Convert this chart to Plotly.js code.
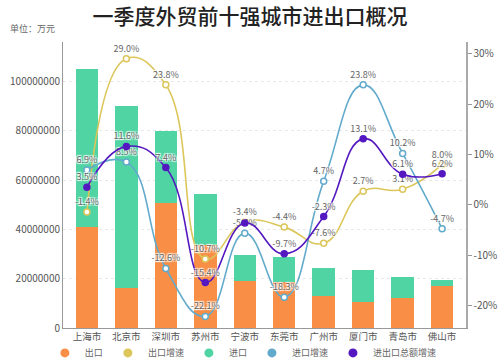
<!DOCTYPE html>
<html>
<head>
<meta charset="utf-8">
<script src="https://cdn.plot.ly/plotly-3.0.1.min.js"></script>
<style>
html,body{margin:0;padding:0;background:#fff;}
#chart{width:500px;height:363px;}
</style>
</head>
<body>
<div id="chart"></div>
<script>
// ---- data (values in 万元 and %) ----
var cities = ['上海市','北京市','深圳市','苏州市','宁波市','东莞市','广州市','厦门市','青岛市','佛山市'];
var exportVal = [41000000, 16200000, 50700000, 33600000, 19100000, 18700000, 13000000, 10500000, 12200000, 17000000];
var importVal = [64000000, 73900000, 29300000, 20800000, 10500000, 10100000, 11300000, 13000000, 8500000, 2500000];
var exportGrowth = [-1.4, 29.0, 23.8, -10.7, -3.4, -4.4, -7.6, 2.7, 3.1, 8.0];
var importGrowth = [6.9, 8.5, -12.6, -22.1, -5.6, -18.3, 4.7, 23.8, 10.2, -4.7];
var totalGrowth = [3.5, 11.6, 7.4, -15.4, -3.6, -9.7, -2.3, 13.1, 6.1, 6.2];
var totalLabelHidden = [false, false, false, false, true, false, false, false, false, false]; // hidden behind other labels in the reference
var rightTicks = [-20, -10, 0, 10, 20, 30];

var cOrange = '#F98F47', cGreen = '#50D4A3', cYellow = '#DCC65A', cTeal = '#62AACB', cPurple = '#5418C0';

function pct(a, hide){ return a.map(function(v, i){ return (hide && hide[i]) ? '' : v.toFixed(1) + '%'; }); }
var labelFont = {family:'Noto Sans CJK SC, Noto Sans, sans-serif', size:9, color:'#666', shadow:'auto'};

function lineTrace(name, y, color, filled, hide){
  return {
    type:'scatter', mode:'lines+markers+text', name:name, x:cities, y:y, yaxis:'y2',
    line:{shape:'spline', smoothing:1.3, color:color, width:1.6},
    marker:{symbol:'circle', size:6, color:filled?color:'#fff', line:{color:color, width:1.5}},
    text:pct(y, hide), textposition:'top center', textfont:labelFont,
    showlegend:false, cliponaxis:false
  };
}
function legendTrace(name, color){
  return {type:'scatter', mode:'markers', name:name, x:[null], y:[null],
    marker:{symbol:'circle', size:9, color:color}, showlegend:true};
}

var traces = [
  {type:'bar', name:'出口', x:cities, y:exportVal, marker:{color:cOrange}, showlegend:false},
  {type:'bar', name:'进口', x:cities, y:importVal, marker:{color:cGreen}, showlegend:false},
  lineTrace('出口增速', exportGrowth, cYellow, false),
  lineTrace('进口增速', importGrowth, cTeal, false),
  lineTrace('进出口总额增速', totalGrowth, cPurple, true, totalLabelHidden),
  legendTrace('出口', cOrange),
  legendTrace('出口增速', cYellow),
  legendTrace('进口', cGreen),
  legendTrace('进口增速', cTeal),
  legendTrace('进出口总额增速', cPurple)
];

var layout = {
  width:500, height:363,
  margin:{l:63, r:34, t:42, b:35, autoexpand:false},
  paper_bgcolor:'#fff', plot_bgcolor:'#fff',
  font:{family:'Noto Sans CJK SC, Noto Sans, sans-serif', color:'#555'},
  title:{text:'一季度外贸前十强城市进出口概况', font:{size:21, color:'#222', weight:500},
    x:0.5, xref:'container', xanchor:'center', y:0.953, yref:'container', yanchor:'middle'},
  barmode:'stack', bargap:0.43,
  xaxis:{type:'category', showline:true, linecolor:'#999', linewidth:1, ticks:'', tickangle:0,
    tickfont:{size:9.5, color:'#555'}, showgrid:false, zeroline:false},
  yaxis:{range:[0, 116000000], tickformat:'d', showline:true, linecolor:'#999', linewidth:1,
    tickvals:[0,20000000,40000000,60000000,80000000,100000000],
    tickfont:{size:10, color:'#555'}, showgrid:true, gridcolor:'#e8e8e8', griddash:'dot', zeroline:false},
  yaxis2:{overlaying:'y', side:'right', range:[-24.4, 32.3], showline:true, linecolor:'#aaa', linewidth:1.5,
    tickvals:rightTicks, ticktext:rightTicks.map(function(v){return (v<0?'-'+(-v):v)+'%';}),
    ticks:'outside', ticklen:4, tickcolor:'#999',
    tickfont:{size:10, color:'#555'}, showgrid:false, zeroline:false},
  showlegend:true,
  legend:{orientation:'h', traceorder:'normal', x:-0.045, xanchor:'left', y:-0.087, yanchor:'middle',
    font:{size:9, color:'#666'}, itemwidth:30, bgcolor:'rgba(0,0,0,0)'},
  annotations:[{text:'单位：万元', xref:'paper', yref:'paper', x:-55/403, y:1+14/286, xanchor:'left', yanchor:'middle',
    showarrow:false, font:{size:9, color:'#666'}}]
};

Plotly.newPlot('chart', traces, layout, {displayModeBar:false, staticPlot:true});
</script>
</body>
</html>
